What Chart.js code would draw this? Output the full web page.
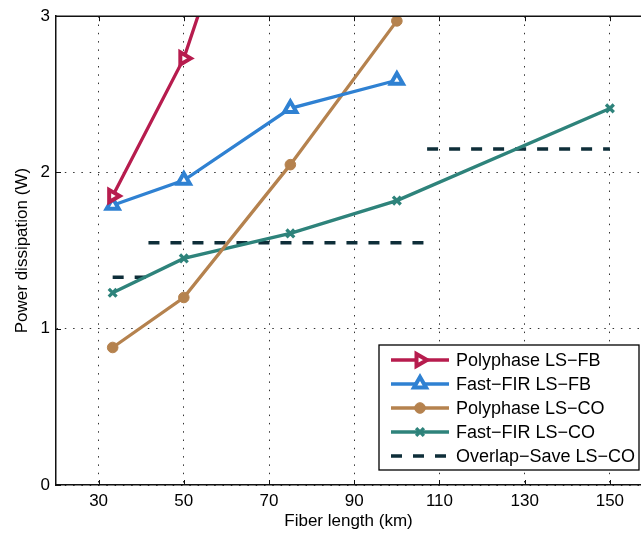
<!DOCTYPE html>
<html>
<head>
<meta charset="utf-8">
<script src="https://cdn.jsdelivr.net/npm/chart.js@4/dist/chart.umd.min.js"></script>
<style>
  html, body { margin: 0; padding: 0; background: #fff; }
  #wrap { width: 641px; height: 534px; }
</style>
</head>
<body>
<div id="wrap"><canvas id="powerChart" width="641" height="534"></canvas></div>
<script>
// fiber lengths (km) and power dissipation (W)
const fiberLength = [33.3, 50, 75, 100, 150];
const polyFB = [1.85, 2.73, 4.77];
const fastFirFB = [1.79, 1.95, 2.41, 2.59];
const polyCO = [0.88, 1.20, 2.05, 2.97];
const fastFirCO = [1.23, 1.45, 1.61, 1.82, 2.41];
// overlap-save is a step curve: [start, end, value] per step
const overlapSteps = [[33.3, 41.7, 1.33], [41.7, 107.1, 1.55], [107.1, 150, 2.15]];

const xTicks = [30, 50, 70, 90, 110, 130, 150];
const yTicks = [0, 1, 2, 3];
const seriesNames = ['Polyphase LS\u2212FB', 'Fast\u2212FIR LS\u2212FB', 'Polyphase LS\u2212CO', 'Fast\u2212FIR LS\u2212CO', 'Overlap\u2212Save LS\u2212CO'];

const FONT = '"Liberation Sans", Arial, Helvetica, sans-serif';

function toPoints(values) {
  return values.map((v, i) => ({ x: fiberLength[i], y: v }));
}

function stepPoints(steps) {
  const pts = [];
  steps.forEach((s, i) => {
    if (i > 0) pts.push({ x: s[0], y: null });
    pts.push({ x: s[0], y: s[2] });
    pts.push({ x: s[1], y: s[2] });
  });
  return pts;
}

// box, inward ticks and legend drawn like the original figure
const framePlugin = {
  id: 'frame',
  afterDraw(chart) {
    const { ctx, chartArea: a, scales } = chart;
    ctx.save();
    ctx.strokeStyle = '#111';
    ctx.lineWidth = 1.5;
    ctx.beginPath();
    ctx.moveTo(a.left, a.top);
    ctx.lineTo(a.right, a.top);
    ctx.stroke();

    ctx.lineWidth = 1;
    ctx.beginPath();
    xTicks.forEach((t) => {
      const px = Math.round(scales.x.getPixelForValue(t)) + 0.5;
      ctx.moveTo(px, a.bottom); ctx.lineTo(px, a.bottom - 5);
      ctx.moveTo(px, a.top); ctx.lineTo(px, a.top + 5);
    });
    yTicks.forEach((t) => {
      const py = Math.round(scales.y.getPixelForValue(t)) + 0.5;
      ctx.moveTo(a.left, py); ctx.lineTo(a.left + 5, py);
    });
    ctx.stroke();

    // legend box
    const left = 379, top = 345, right = 639, bottom = 470;
    ctx.fillStyle = '#fff';
    ctx.fillRect(left, top, right - left, bottom - top);
    ctx.strokeStyle = '#000';
    ctx.lineWidth = 1.3;
    ctx.strokeRect(left, top, right - left, bottom - top);

    ctx.font = '18px ' + FONT;
    ctx.textBaseline = 'middle';
    chart.data.datasets.forEach((ds, i) => {
      const y = top + 15 + i * 24;
      ctx.save();
      ctx.strokeStyle = ds.borderColor;
      ctx.lineWidth = ds.borderWidth;
      ctx.setLineDash(ds.borderDash || []);
      ctx.beginPath();
      ctx.moveTo(391, y);
      ctx.lineTo(449, y);
      ctx.stroke();
      ctx.setLineDash([]);
      if (ds.pointRadius > 0) {
        ctx.fillStyle = ds.pointBackgroundColor;
        ctx.strokeStyle = ds.borderColor;
        ctx.lineWidth = ds.pointBorderWidth;
        Chart.helpers.drawPoint(ctx, {
          pointStyle: ds.pointStyle,
          radius: ds.pointRadius,
          rotation: ds.pointRotation || 0,
          borderWidth: ds.pointBorderWidth,
        }, 420, y);
      }
      ctx.restore();
      ctx.fillStyle = '#000';
      ctx.fillText(ds.label, 456, y + 1);
    });
    ctx.restore();
  },
};

new Chart(document.getElementById('powerChart'), {
  type: 'line',
  data: {
    datasets: [
      {
        label: seriesNames[0],
        data: toPoints(polyFB),
        borderColor: '#B71C4E',
        borderWidth: 3.3,
        pointStyle: 'triangle',
        pointRotation: 90,
        pointRadius: 7,
        pointBorderWidth: 4,
        pointBackgroundColor: '#fff',
      },
      {
        label: seriesNames[1],
        data: toPoints(fastFirFB),
        borderColor: '#2F81D2',
        borderWidth: 3.3,
        pointStyle: 'triangle',
        pointRadius: 7,
        pointBorderWidth: 4,
        pointBackgroundColor: '#fff',
      },
      {
        label: seriesNames[2],
        data: toPoints(polyCO),
        borderColor: '#B5824E',
        borderWidth: 3.3,
        pointStyle: 'circle',
        pointRadius: 5.3,
        pointBorderWidth: 1,
        pointBackgroundColor: '#B5824E',
      },
      {
        label: seriesNames[3],
        data: toPoints(fastFirCO),
        borderColor: '#2E837B',
        borderWidth: 3.3,
        pointStyle: 'crossRot',
        pointRadius: 5.5,
        pointBorderWidth: 3.3,
        pointBackgroundColor: '#2E837B',
      },
      {
        label: seriesNames[4],
        data: stepPoints(overlapSteps),
        borderColor: '#0E2E39',
        borderWidth: 3.5,
        borderDash: [11, 11],
        pointRadius: 0,
        spanGaps: false,
      },
    ],
  },
  options: {
    responsive: false,
    animation: false,
    layout: { autoPadding: false, padding: { top: 15, right: 0, bottom: 0, left: 0 } },
    elements: { line: { tension: 0 } },
    plugins: {
      legend: { display: false },
      tooltip: { enabled: false },
    },
    scales: {
      x: {
        type: 'linear',
        min: 20,
        max: 157.3,
        afterBuildTicks: (s) => { s.ticks = xTicks.map((v) => ({ value: v })); },
        afterFit: (s) => { s.height = 49; },
        ticks: { color: '#000', font: { family: FONT, size: 17 }, padding: 6, maxRotation: 0 },
        grid: { color: '#333', lineWidth: 1, drawTicks: false },
        border: { color: '#111', width: 1.5, dash: [1.5, 6.8] },
        title: { display: true, text: 'Fiber length (km)', color: '#000', font: { family: FONT, size: 17 }, padding: { top: 0, bottom: 2 } },
      },
      y: {
        type: 'linear',
        min: 0,
        max: 3,
        afterBuildTicks: (s) => { s.ticks = yTicks.map((v) => ({ value: v })); },
        afterFit: (s) => { s.width = 56; },
        ticks: { color: '#000', font: { family: FONT, size: 17 }, padding: 6 },
        grid: { color: '#333', lineWidth: 1, drawTicks: false },
        border: { color: '#111', width: 1.5, dash: [1.5, 6.8] },
        title: { display: true, text: 'Power dissipation (W)', color: '#000', font: { family: FONT, size: 17 }, padding: { top: 12, bottom: 0 } },
      },
    },
  },
  plugins: [framePlugin],
});
</script>
</body>
</html>
